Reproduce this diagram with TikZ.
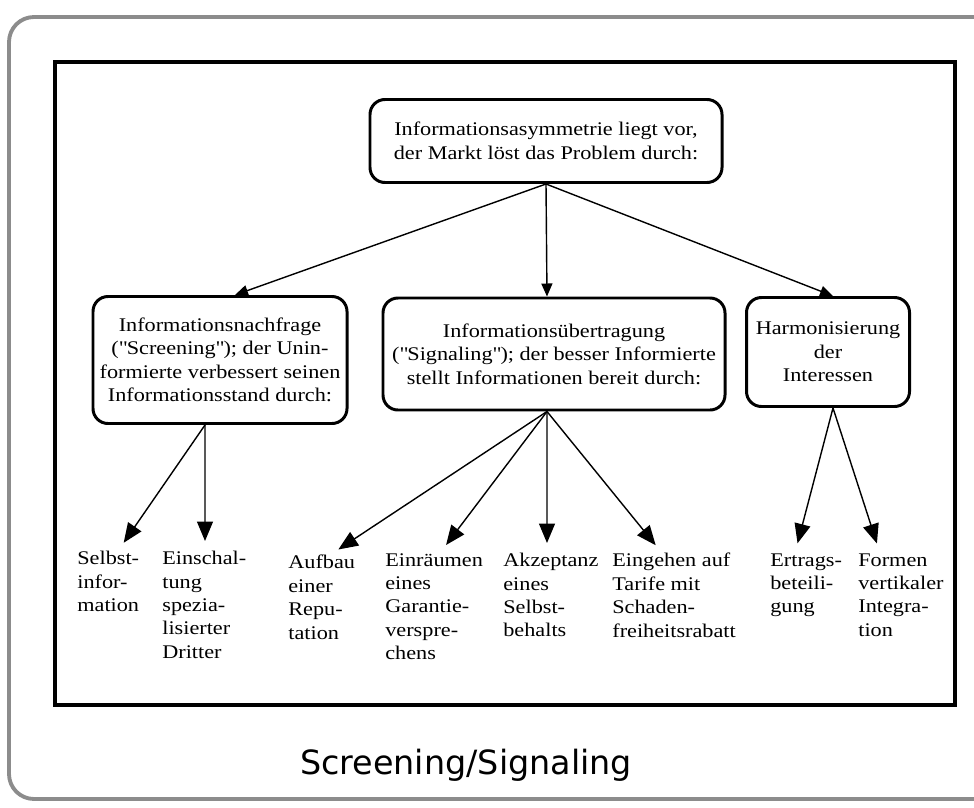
\documentclass[tikz,border=0pt]{standalone}
\usepackage{fontspec}
\setmainfont{Liberation Serif}[FakeStretch=1.15]
\newfontfamily\capfont{DejaVu Sans}
\usetikzlibrary{positioning}
\usetikzlibrary{arrows.meta}
\definecolor{framegray}{HTML}{8C8C8C}
\tikzset{
    probbox/.style = {rectangle, rounded corners=3mm, line width=1.7pt, draw=black, align=center, inner sep=2pt, font=\fontsize{11}{13.3}\selectfont},
    leaf/.style = {anchor=north west, align=left, inner sep=0pt, font=\fontsize{11}{13.3}\selectfont},
    edgen/.style = {-{Triangle[length=2.6mm,width=2.2mm]}, line width=0.8pt},
    edgel/.style = {-{Triangle[length=3.9mm,width=3.2mm]}, line width=0.8pt, shorten >=2mm},
    scanframe/.style = {line width=1.8pt, draw=black},
    outerframe/.style = {line width=2.2pt, draw=framegray, rounded corners=5mm}
}
\begin{document}
\begin{tikzpicture}[x=0.2mm,y=-0.2mm]
\useasboundingbox (0,0) rectangle (974,808);
% frames
\draw[outerframe] (990,17) -- (9,17) -- (9,799) -- (990,799);
\draw[scanframe] (55,62) rectangle (955,705);
%
\node[probbox, minimum width=7.04cm, minimum height=1.66cm] at (546,141) (prob) {Informationsasymmetrie liegt vor,\\der Markt löst das Problem durch:};
\node[probbox, minimum width=5.08cm, minimum height=2.54cm] at (220,360) (screen) {Informationsnachfrage\\(\textquotedbl Screening\textquotedbl); der Unin-\\formierte verbessert seinen\\Informationsstand durch:};
\node[probbox, minimum width=6.84cm, minimum height=2.24cm] at (554,354) (signal) {Informationsübertragung\\(\textquotedbl Signaling\textquotedbl); der besser Informierte\\stellt Informationen bereit durch:};
\node[probbox, minimum width=3.26cm, minimum height=2.18cm] at (828,352) (harm) {Harmonisierung\\der\\Interessen};
%
\node[leaf] at (77,551) (selbst) {Selbst-\\infor-\\mation};
\node[leaf] at (162,551) (dritter) {Einschal-\\tung\\spezia-\\lisierter\\Dritter};
\node[leaf] at (288,555) (repu) {Aufbau\\einer\\Repu-\\tation};
\node[leaf] at (385,553) (garantie) {Einräumen\\eines\\Garantie-\\verspre-\\chens};
\node[leaf] at (503,553) (behalt) {Akzeptanz\\eines\\Selbst-\\behalts};
\node[leaf] at (612,553) (tarif) {Eingehen auf\\Tarife mit\\Schaden-\\freiheitsrabatt};
\node[leaf] at (770,553) (ertrag) {Ertrags-\\beteili-\\gung};
\node[leaf] at (858,553) (integr) {Formen\\vertikaler\\Integra-\\tion};
%
\node[font=\capfont\fontsize{19}{22}\selectfont] at (466,765) (caption) {Screening/Signaling};
%
\draw[edgen] (prob.south) -- ([xshift=3mm]screen.north);
\draw[edgen] (prob.south) -- ([xshift=-1.4mm]signal.north);
\draw[edgen] (prob.south) -- ([xshift=1mm]harm.north);
\draw[edgel] ([xshift=-3mm]screen.south) -- ([xshift=8.2mm]selbst.north west);
\draw[edgel] ([xshift=-3mm]screen.south) -- ([xshift=8.6mm]dritter.north west);
\draw[edgel] ([xshift=-1.4mm]signal.south) -- ([xshift=8.4mm]repu.north west);
\draw[edgel] ([xshift=-1.4mm]signal.south) -- ([xshift=11mm]garantie.north west);
\draw[edgel] ([xshift=-1.4mm]signal.south) -- ([xshift=8.8mm]behalt.north west);
\draw[edgel] ([xshift=-1.4mm]signal.south) -- ([xshift=10mm]tarif.north west);
\draw[edgel] ([xshift=1mm]harm.south) -- ([xshift=5mm]ertrag.north west);
\draw[edgel] ([xshift=1mm]harm.south) -- ([xshift=4.4mm]integr.north west);
\end{tikzpicture}
\end{document}
